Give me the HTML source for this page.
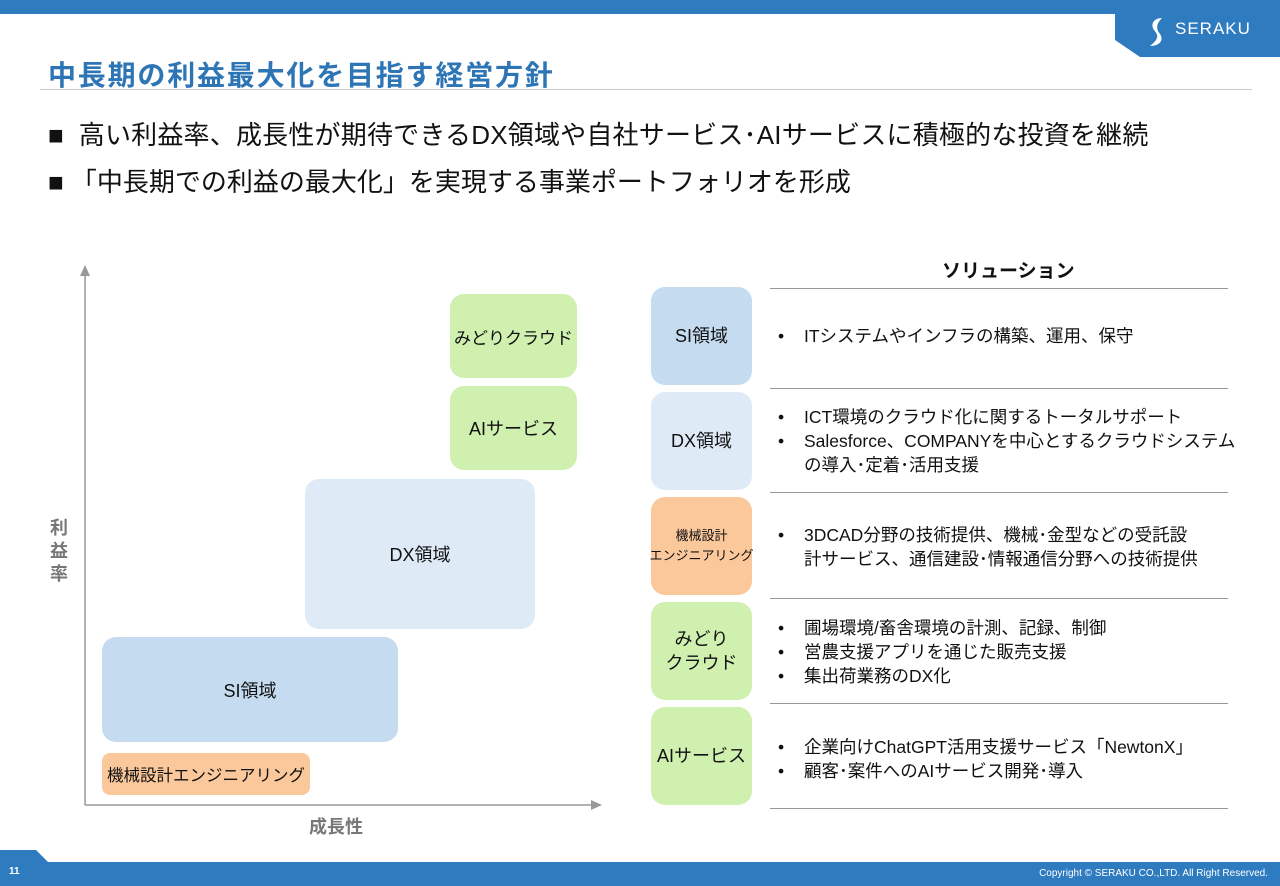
<!DOCTYPE html>
<html><head><meta charset="utf-8"><style>
*{margin:0;padding:0;box-sizing:border-box}
body{width:1280px;height:886px;position:relative;background:#fff;font-family:"Liberation Sans","Noto Sans CJK JP",sans-serif;color:#111;overflow:hidden}
.a{position:absolute}
.box{position:absolute;border-radius:14px;display:flex;align-items:center;justify-content:center;text-align:center;font-size:18px;color:#111}
.lbl{position:absolute;left:651px;width:101px;border-radius:14px;display:flex;align-items:center;justify-content:center;text-align:center;font-size:18px;line-height:24px}
.ln{position:absolute;left:770px;width:458px;height:1px;background:#999}
.sol{position:absolute;left:778px;width:470px;font-size:17.5px;line-height:24px;white-space:nowrap}
.sol div{padding-left:26px;text-indent:-26px}
.sol div::before{content:"•";display:inline-block;width:26px;text-indent:0}
</style></head><body>
<div class="a" style="left:0;top:0;width:1280px;height:14px;background:#2f7bbf"></div>
<svg class="a" style="left:1110px;top:0" width="170" height="60"><polygon points="5,14 170,14 170,57 30,57 5,40" fill="#2f7bbf"/><path d="M52,18 c-8,0 -12,6 -8,12 c4,5 6,8 -4,16 c10,0 14,-6 10,-12 c-4,-5 -4,-10 2,-16z" fill="#fff"/></svg>
<div class="a" style="left:1175px;top:19px;color:#fff;font-size:17px;letter-spacing:1px">SERAKU</div>
<div class="a" style="left:48px;top:54px;font-size:28px;font-weight:bold;color:#2e75b6;letter-spacing:1.8px">中長期の利益最大化を目指す経営方針</div>
<div class="a" style="left:40px;top:89px;width:1212px;height:1px;background:#ccc"></div>
<div class="a" style="left:48px;top:115px;font-size:26px;letter-spacing:0.2px">■&nbsp; 高い利益率、成長性が期待できるDX領域や自社サービス･AIサービスに積極的な投資を継続</div>
<div class="a" style="left:48px;top:162px;font-size:26px">■&nbsp;「中長期での利益の最大化」を実現する事業ポートフォリオを形成</div>
<svg class="a" style="left:0;top:0" width="640" height="886"><line x1="85" y1="805" x2="85" y2="272" stroke="#999" stroke-width="1.5"/><polygon points="85,265 80,276 90,276" fill="#999"/><line x1="85" y1="805" x2="594" y2="805" stroke="#999" stroke-width="1.5"/><polygon points="602,805 591,800 591,810" fill="#999"/></svg>
<div class="a" style="left:50px;top:517px;width:20px;font-size:18px;font-weight:bold;color:#777;line-height:23px">利<br>益<br>率</div>
<div class="a" style="left:309px;top:813px;font-size:18px;font-weight:bold;color:#777">成長性</div>
<div class="box" style="left:450px;top:294px;width:127px;height:84px;background:#d0f0b0;font-size:17px">みどりクラウド</div>
<div class="box" style="left:450px;top:386px;width:127px;height:84px;background:#d0f0b0">AIサービス</div>
<div class="box" style="left:305px;top:479px;width:230px;height:150px;background:#deebf7">DX領域</div>
<div class="box" style="left:102px;top:637px;width:296px;height:105px;background:#c5dbef">SI領域</div>
<div class="box" style="left:102px;top:753px;width:208px;height:42px;border-radius:8px;background:#fbc89b;font-size:16.5px">機械設計エンジニアリング</div>
<div class="a" style="left:942px;top:256px;font-size:19px;font-weight:bold">ソリューション</div>
<div class="ln" style="top:288px"></div><div class="ln" style="top:388px"></div><div class="ln" style="top:492px"></div><div class="ln" style="top:598px"></div><div class="ln" style="top:703px"></div><div class="ln" style="top:808px"></div>
<div class="lbl" style="top:287px;height:98px;background:#c5dbef">SI領域</div>
<div class="lbl" style="top:392px;height:98px;background:#deebf7">DX領域</div>
<div class="lbl" style="top:497px;height:98px;background:#fbc89b;font-size:13px;line-height:20px;white-space:nowrap">機械設計<br>エンジニアリング</div>
<div class="lbl" style="top:602px;height:98px;background:#d0f0b0">みどり<br>クラウド</div>
<div class="lbl" style="top:707px;height:98px;background:#d0f0b0">AIサービス</div>
<div class="sol" style="top:324px"><div>ITシステムやインフラの構築、運用、保守</div></div>
<div class="sol" style="top:405px"><div>ICT環境のクラウド化に関するトータルサポート</div><div>Salesforce、COMPANYを中心とするクラウドシステム<br>の導入･定着･活用支援</div></div>
<div class="sol" style="top:523px"><div>3DCAD分野の技術提供、機械･金型などの受託設<br>計サービス、通信建設･情報通信分野への技術提供</div></div>
<div class="sol" style="top:616px"><div>圃場環境/畜舎環境の計測、記録、制御</div><div>営農支援アプリを通じた販売支援</div><div>集出荷業務のDX化</div></div>
<div class="sol" style="top:735px"><div>企業向けChatGPT活用支援サービス「NewtonX」</div><div>顧客･案件へのAIサービス開発･導入</div></div>
<svg class="a" style="left:0;top:848px" width="1280" height="38"><polygon points="0,2 36,2 48,14 1280,14 1280,38 0,38" fill="#2f7bbf"/></svg>
<div class="a" style="left:9px;top:866px;font-size:10px;color:#fff;font-weight:bold">11</div>
<div class="a" style="right:12px;top:868px;font-size:10px;color:#fff">Copyright © SERAKU CO.,LTD. All Right Reserved.</div>
</body></html>
